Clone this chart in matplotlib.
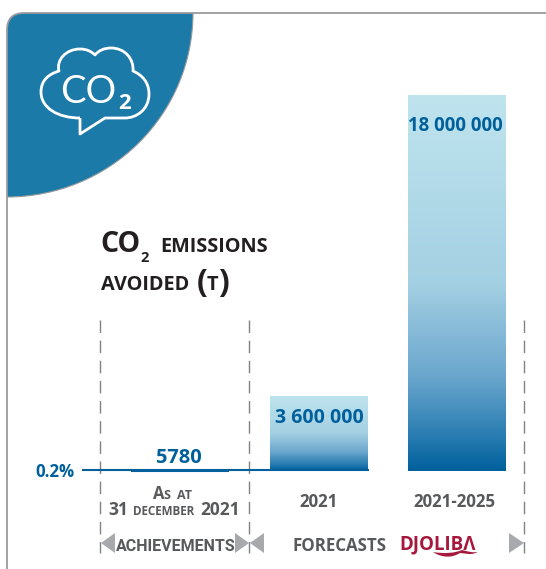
import numpy as np
import matplotlib
matplotlib.use("Agg")
import matplotlib.pyplot as plt
from matplotlib.colors import LinearSegmentedColormap
from matplotlib.patches import FancyBboxPatch, Ellipse, PathPatch, Polygon
from matplotlib.path import Path

# ---- data ----
categories = ["As at 31 December 2021", "2021", "2021-2025"]
values = [5780, 3600000, 18000000]
value_labels = ["5780", "3 600 000", "18 000 000"]
share_label = "0.2%"

W, H = 546, 569
BLUE = "#00609c"
GREY = "#58595b"
DARK = "#231f20"
TEAL = "#1c7aa8"
EDGE = "#9a9b9d"
ARROW = "#a7a9ac"
RED = "#a6193c"
FONT = ["Open Sans", "DejaVu Sans"]
CONDENSED = ["Roboto", "Open Sans", "DejaVu Sans"]

fig = plt.figure(figsize=(W / 100, H / 100), dpi=100, facecolor="white")

# main data axes: category slots 138.5 px apart, y scale 376 px for 18 M
ax = fig.add_axes([0, 0, 1, 1])
ax.set_axis_off()
slot = 138.5
xlim = (-180 / slot, (W - 180) / slot)
unit = max(values) / 376
ylim = (-(H - 471) * unit, 471 * unit)

cmap = LinearSegmentedColormap.from_list(
    "bars",
    [(0, "#00609c"), (0.1, "#2c7fb3"), (0.25, "#6aa6cd"), (0.5, "#a4d0e3"), (1, "#bfe4ee")],
)
grad = np.linspace(1, 0, 256).reshape(-1, 1)
bars = ax.bar(range(len(values)), values, width=98 / slot, color="none", edgecolor="none")
for b, v in zip(bars, values):
    if v < max(values) * 0.01:
        b.set_facecolor(BLUE)
        b.set_edgecolor(BLUE)
        b.set_linewidth(1.5)
        continue
    x0, w = b.get_x(), b.get_width()
    im = ax.imshow(grad, cmap=cmap, vmin=0, vmax=1, aspect="auto",
                   extent=(x0, x0 + w, 0, v), zorder=2)
    im.set_clip_path(b)
ax.set_xlim(*xlim)
ax.set_ylim(*ylim)

# overlay in pixel coordinates for the card furniture and text
ov = fig.add_axes([0, 0, 1, 1], facecolor="none")
ov.set_axis_off()
ov.set_xlim(0, W)
ov.set_ylim(H, 0)

card = FancyBboxPatch((7, 13), 560, 575, boxstyle="round,pad=0,rounding_size=17",
                      fc="none", ec=EDGE, lw=1.3, zorder=5)
ov.add_patch(card)
banner = Ellipse((7, 13), 2 * 186, 2 * 184, fc=TEAL, ec=EDGE, lw=0.8, zorder=3)
ov.add_patch(banner)
banner.set_clip_path(FancyBboxPatch((7, 13), 560, 575, boxstyle="round,pad=0,rounding_size=17",
                                    transform=ov.transData))

# cloud icon
M, L, C = Path.MOVETO, Path.LINETO, Path.CURVE4
cloud = [
    ((80, 118), M),
    ((58, 118), C), ((41, 108), C), ((41, 92), C),
    ((41, 80), C), ((49, 74), C), ((59, 71), C),
    ((56, 60), C), ((66, 49), C), ((80, 49), C),
    ((86, 49), C), ((91, 51), C), ((95, 55), C),
    ((99, 50), C), ((105, 48), C), ((111, 48), C),
    ((125, 48), C), ((134, 59), C), ((133, 71), C),
    ((142, 75), C), ((149, 82), C), ((149, 94), C),
    ((149, 110), C), ((136, 118), C), ((125, 118), C),
    ((105, 118), L), ((80, 134), L), ((80, 118), L),
]
ov.add_patch(PathPatch(Path([p for p, _ in cloud], [c for _, c in cloud]),
                       fc="none", ec="white", lw=2.0, joinstyle="round", zorder=6))


def t(x, y, s, size, color=GREY, weight="bold", ha="left", family=FONT):
    return ov.text(x, y, s, fontsize=size, color=color, fontweight=weight, ha=ha,
                   va="baseline", family=family, zorder=8)


t(60, 103, "CO", 27.5, "white", "normal", family=["Lato", "Open Sans"])
t(118, 109, "2", 16, "white", "bold")

# title
t(100, 252, "CO", 20.5, DARK)
t(140, 262, "2", 10.5, DARK)
t(160, 252, "EMISSIONS", 14.3, DARK)
t(101, 290, "AVOIDED", 14.3, DARK)
t(197, 292, "(", 23, DARK)
t(207, 290, "T", 14.3, DARK)
t(218, 292, ")", 23, DARK)

# dashed guides
for gx in (100, 249, 524):
    ov.plot([gx, gx], [320, 553], color="#808285", lw=1.0, dashes=(9, 5.5), zorder=1)

# baseline rule and share label
ov.plot([82, 369], [470, 470], color=BLUE, lw=1.5, solid_capstyle="butt", zorder=6)
t(75, 477, share_label, 12.2, BLUE, ha="right")

# value labels, placed from the bars
label_px = [(179, 463, 14.4), (319, 423, 14), (455, 131, 13.4)]
for (lx, ly, ls), lab in zip(label_px, value_labels):
    t(lx, ly, lab, ls, BLUE, ha="center")

# category labels
t(153, 499, "A", 12, GREY)
t(163.5, 499, "S", 9, GREY)
t(177, 499, "AT", 9, GREY)
t(108, 515, "31", 12.5, GREY)
t(133, 515, "DECEMBER", 8.4, GREY)
t(200, 515, "2021", 12.5, GREY)
t(319, 507, categories[1], 12.2, GREY, ha="center")
t(454, 507, categories[2], 12.2, GREY, ha="center")

# period arrows and captions
for pts in ([(101, 543), (115, 533), (115, 553)],
            [(249, 543), (235, 533), (235, 553)],
            [(250, 543), (264, 533), (264, 553)],
            [(524, 543), (509, 533), (509, 553)]):
    ov.add_patch(Polygon(pts, closed=True, fc=ARROW, ec="none", zorder=4))
t(116, 551, "ACHIEVEMENTS", 11.5, GREY, family=CONDENSED)
t(293, 551, "FORECASTS", 12.2, GREY)

# partner logo
t(399, 549, "DJOLIBΛ", 13.5, RED, family=FONT)
swoosh = [((433, 552), M),
          ((445, 554), C), ((455, 553), C), ((462, 550), C),
          ((466, 551), C), ((472, 553), C), ((478, 552), C),
          ((470, 556), C), ((464, 553), C), ((460, 553), C),
          ((452, 558), C), ((442, 558), C), ((433, 552), C)]
ov.add_patch(PathPatch(Path([p for p, _ in swoosh], [c for _, c in swoosh]),
                       fc=RED, ec="none", zorder=7))

fig.savefig("out.png", dpi=100, facecolor="white")
